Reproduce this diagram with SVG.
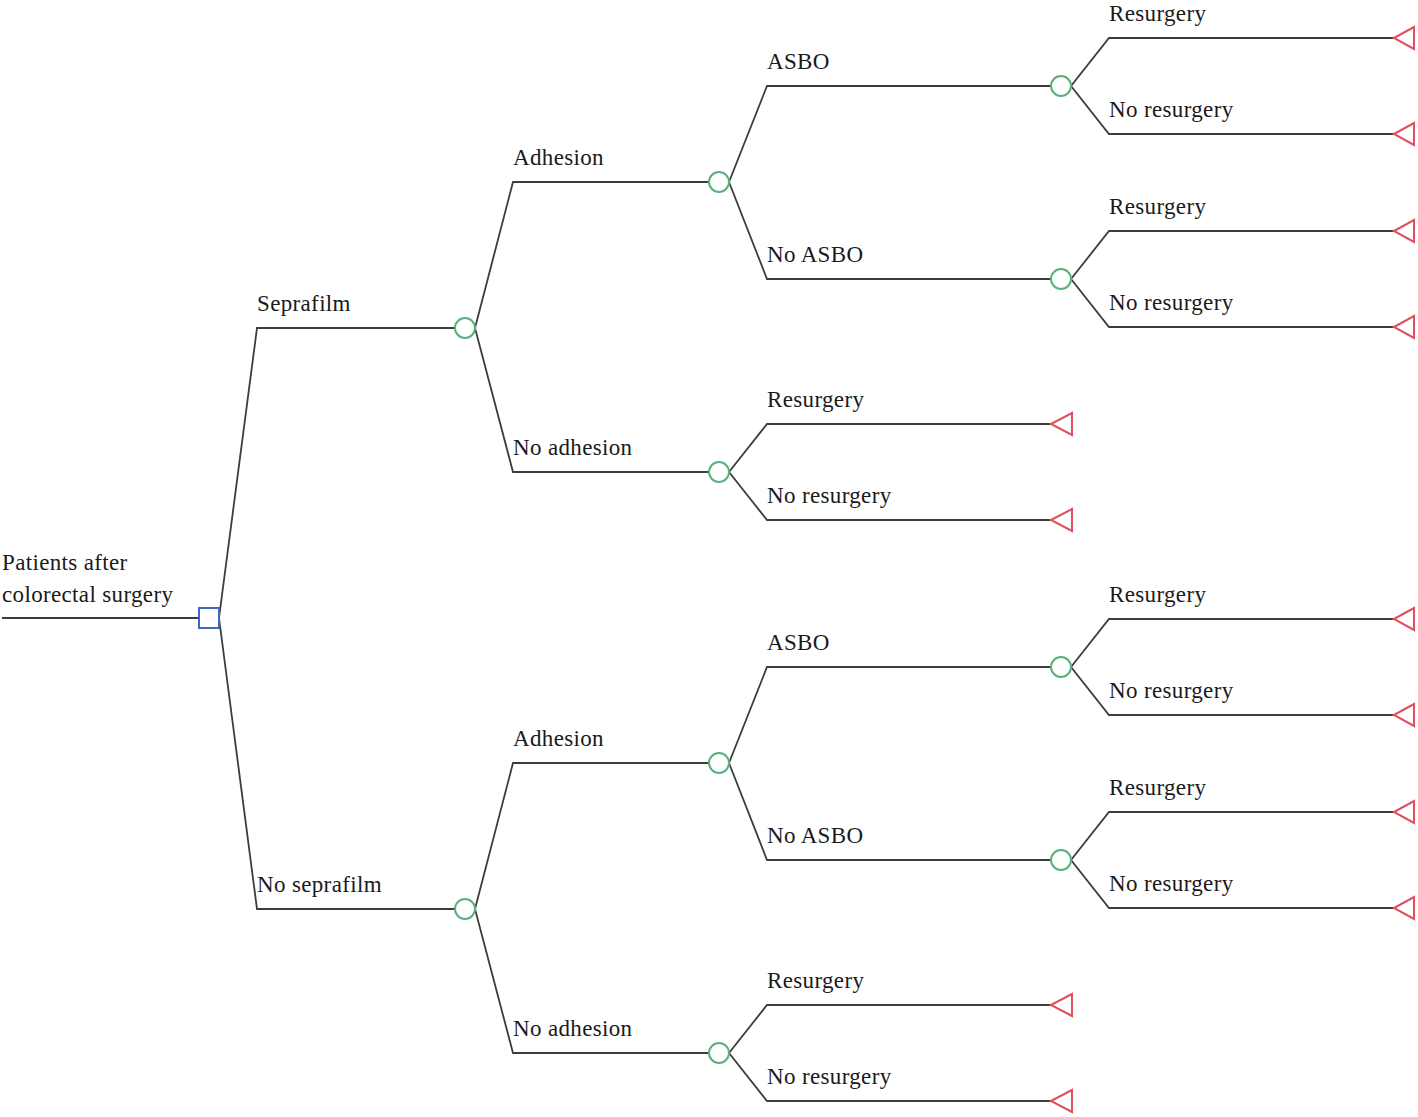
<svg xmlns="http://www.w3.org/2000/svg" width="1418" height="1117" viewBox="0 0 1418 1117">
<style>
.ln{fill:none;stroke:#3c3c3c;stroke-width:1.8}
.dec{fill:#fff;stroke:#3f66c0;stroke-width:2}
.ch{fill:#fff;stroke:#5ab07c;stroke-width:2}
.term{fill:#fff;stroke:#e0505e;stroke-width:2;stroke-linejoin:miter}
text{font-family:"Liberation Serif","Times New Roman",serif;font-size:23px;letter-spacing:0.35px;fill:#1a1a1a}
</style>
<rect width="1418" height="1117" fill="#fff"/>
<g id="connectors">
<path class="ln" d="M2,618 H199"/>
<path class="ln" d="M219,618 L257,328 H455"/>
<path class="ln" d="M219,618 L257,909 H455"/>
<path class="ln" d="M475,328 L513,182 H709"/>
<path class="ln" d="M475,328 L513,472 H709"/>
<path class="ln" d="M729,182 L767,86 H1051"/>
<path class="ln" d="M729,182 L767,279 H1051"/>
<path class="ln" d="M1071,86 L1109,38 H1394"/>
<path class="ln" d="M1071,86 L1109,134 H1394"/>
<path class="ln" d="M1071,279 L1109,231 H1394"/>
<path class="ln" d="M1071,279 L1109,327 H1394"/>
<path class="ln" d="M729,472 L767,424 H1051"/>
<path class="ln" d="M729,472 L767,520 H1051"/>
<path class="ln" d="M475,909 L513,763 H709"/>
<path class="ln" d="M475,909 L513,1053 H709"/>
<path class="ln" d="M729,763 L767,667 H1051"/>
<path class="ln" d="M729,763 L767,860 H1051"/>
<path class="ln" d="M1071,667 L1109,619 H1394"/>
<path class="ln" d="M1071,667 L1109,715 H1394"/>
<path class="ln" d="M1071,860 L1109,812 H1394"/>
<path class="ln" d="M1071,860 L1109,908 H1394"/>
<path class="ln" d="M729,1053 L767,1005 H1051"/>
<path class="ln" d="M729,1053 L767,1101 H1051"/>
</g>
<g id="labels">
<text x="2" y="570">Patients after</text>
<text x="2" y="602">colorectal surgery</text>
<text x="257" y="311">Seprafilm</text>
<text x="513" y="165">Adhesion</text>
<text x="513" y="455">No adhesion</text>
<text x="767" y="69">ASBO</text>
<text x="767" y="262">No ASBO</text>
<text x="1109" y="21">Resurgery</text>
<text x="1109" y="117">No resurgery</text>
<text x="1109" y="214">Resurgery</text>
<text x="1109" y="310">No resurgery</text>
<text x="767" y="407">Resurgery</text>
<text x="767" y="503">No resurgery</text>
<text x="257" y="892">No seprafilm</text>
<text x="513" y="746">Adhesion</text>
<text x="513" y="1036">No adhesion</text>
<text x="767" y="650">ASBO</text>
<text x="767" y="843">No ASBO</text>
<text x="1109" y="602">Resurgery</text>
<text x="1109" y="698">No resurgery</text>
<text x="1109" y="795">Resurgery</text>
<text x="1109" y="891">No resurgery</text>
<text x="767" y="988">Resurgery</text>
<text x="767" y="1084">No resurgery</text>
</g>
<g id="root"><rect class="dec" x="199" y="608" width="20" height="20"/></g>
<g id="c-seprafilm"><circle class="ch" cx="465" cy="328" r="10"/></g>
<g id="c-noseprafilm"><circle class="ch" cx="465" cy="909" r="10"/></g>
<g id="c-s-adhesion"><circle class="ch" cx="719" cy="182" r="10"/></g>
<g id="c-s-noadhesion"><circle class="ch" cx="719" cy="472" r="10"/></g>
<g id="c-s-asbo"><circle class="ch" cx="1061" cy="86" r="10"/></g>
<g id="c-s-noasbo"><circle class="ch" cx="1061" cy="279" r="10"/></g>
<g id="c-n-adhesion"><circle class="ch" cx="719" cy="763" r="10"/></g>
<g id="c-n-noadhesion"><circle class="ch" cx="719" cy="1053" r="10"/></g>
<g id="c-n-asbo"><circle class="ch" cx="1061" cy="667" r="10"/></g>
<g id="c-n-noasbo"><circle class="ch" cx="1061" cy="860" r="10"/></g>
<g id="t1"><polygon class="term" points="1394,38 1414,27 1414,49"/></g>
<g id="t2"><polygon class="term" points="1394,134 1414,123 1414,145"/></g>
<g id="t3"><polygon class="term" points="1394,231 1414,220 1414,242"/></g>
<g id="t4"><polygon class="term" points="1394,327 1414,316 1414,338"/></g>
<g id="t5"><polygon class="term" points="1051,424 1072,413 1072,435"/></g>
<g id="t6"><polygon class="term" points="1051,520 1072,509 1072,531"/></g>
<g id="t7"><polygon class="term" points="1394,619 1414,608 1414,630"/></g>
<g id="t8"><polygon class="term" points="1394,715 1414,704 1414,726"/></g>
<g id="t9"><polygon class="term" points="1394,812 1414,801 1414,823"/></g>
<g id="t10"><polygon class="term" points="1394,908 1414,897 1414,919"/></g>
<g id="t11"><polygon class="term" points="1051,1005 1072,994 1072,1016"/></g>
<g id="t12"><polygon class="term" points="1051,1101 1072,1090 1072,1112"/></g>
</svg>
